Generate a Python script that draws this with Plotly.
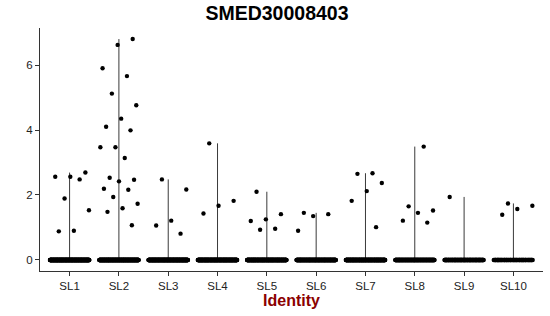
import numpy as np
import plotly.graph_objects as go

# ---- data ----
categories = ["SL1", "SL2", "SL3", "SL4", "SL5", "SL6", "SL7", "SL8", "SL9", "SL10"]
nonzero_values = {
    "SL1": [2.69, 2.56, 2.56, 2.48, 1.89, 1.53, 0.90, 0.88],
    "SL2": [6.80, 6.62, 5.90, 5.66, 5.12, 4.76, 4.35, 4.10, 3.99, 3.47, 3.47, 3.14,
            2.53, 2.47, 2.42, 2.19, 2.16, 1.94, 1.73, 1.59, 1.48, 1.07],
    "SL3": [2.48, 2.17, 1.21, 1.06, 0.81],
    "SL4": [3.59, 1.82, 1.67, 1.43],
    "SL5": [2.10, 1.41, 1.25, 1.20, 0.96, 0.93],
    "SL6": [1.45, 1.41, 1.35, 0.90],
    "SL7": [2.67, 2.65, 2.37, 2.12, 1.82, 1.01],
    "SL8": [3.49, 1.65, 1.52, 1.45, 1.21, 1.15],
    "SL9": [1.94],
    "SL10": [1.74, 1.67, 1.57, 1.39],
}
zero_counts = [310, 290, 300, 280, 260, 240, 250, 180, 130, 70]
y_ticks = [0, 2, 4, 6]
title_text = "SMED30008403"
x_title = "Identity"

# ---- build ----
GOLD = 0.6180339887
JIT = 0.4

fig = go.Figure()
positions = list(range(1, len(categories) + 1))

all_vals = []
for cat in categories:
    all_vals += nonzero_values[cat]
ymax = max(all_vals)
pad = 0.05 * ymax

# violins (collapsed to a line because almost all values are zero)
for pos, cat in zip(positions, categories):
    vmax = max(nonzero_values[cat])
    fig.add_trace(go.Scatter(x=[pos, pos], y=[0, vmax], mode="lines",
                             line=dict(color="#3a3a3a", width=1),
                             hoverinfo="skip", showlegend=False))

# jittered points
for pos, cat, nz in zip(positions, categories, zero_counts):
    vals = [0.0] * nz + list(nonzero_values[cat])
    k = np.arange(len(vals))
    offs = ((k * GOLD + 0.31 * pos) % 1.0 - 0.5) * 2 * JIT
    fig.add_trace(go.Scatter(x=pos + offs, y=vals, mode="markers",
                             marker=dict(color="black", size=4.4, line=dict(width=0)),
                             showlegend=False, hoverinfo="y"))

fig.update_layout(
    width=550, height=316,
    margin=dict(l=40, r=7, t=28, b=45),
    paper_bgcolor="white", plot_bgcolor="white",
    title=dict(text=f"<b>{title_text}</b>", x=277 / 550, xanchor="center",
               y=1 - 6 / 316, yanchor="top", yref="container",
               font=dict(family="Liberation Sans, Arial", size=19.5, color="black")),
    font=dict(family="Liberation Sans, Arial", color="#222"),
)
fig.update_xaxes(
    range=[0.4, len(categories) + 0.6], tickmode="array",
    tickvals=positions, ticktext=categories,
    showline=True, linecolor="#333", linewidth=1, mirror=False,
    ticks="outside", ticklen=4, tickcolor="#333", tickwidth=1,
    showgrid=False, zeroline=False,
    tickfont=dict(size=11.5, color="#222"),
    title=dict(text=f"<b>{x_title}</b>", standoff=4,
               font=dict(family="Liberation Sans, Arial", size=16, color="#8B0000")),
)
fig.update_yaxes(
    range=[-pad, ymax + pad], tickmode="array", tickvals=y_ticks,
    showline=True, linecolor="#333", linewidth=1,
    ticks="outside", ticklen=4, tickcolor="#333", tickwidth=1,
    showgrid=False, zeroline=False,
    tickfont=dict(size=11.5, color="#222"),
)

fig.write_html("out.html")
